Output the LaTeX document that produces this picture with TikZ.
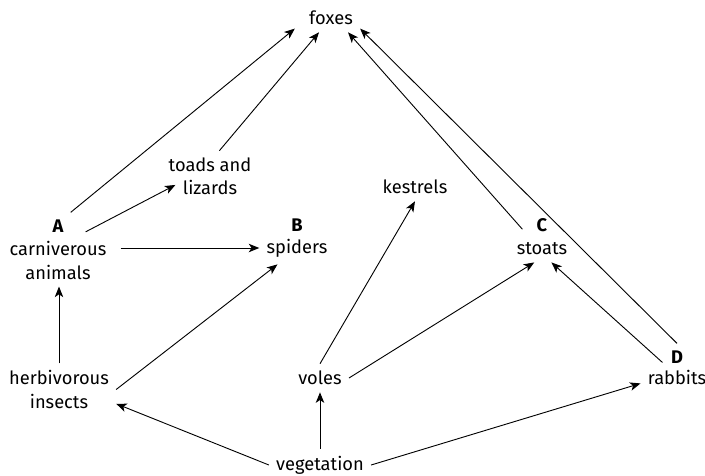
\documentclass[tikz,border=0pt]{standalone}
\usepackage{fontspec}
\setmainfont{Fira Sans}
\usetikzlibrary{arrows.meta}

\begin{document}
\begin{tikzpicture}[
    x=0.025cm, y=-0.025cm,
    organism/.style={align=center, inner sep=5pt, font=\fontsize{13}{16.4}\selectfont},
    tag/.style={inner sep=5pt, font=\fontsize{13}{16.4}\selectfont\bfseries},
    arrow/.style={-{Stealth[length=7.5pt, width=6pt, inset=2pt]}, line width=0.65pt}
]
\useasboundingbox (0,0) rectangle (705,475);

% Top of the web
\node[organism] (foxes) at (331,18) {foxes};
\node[organism] (toads) at (210,176.5) {toads and\\lizards};
\node[organism] (kestrels) at (415,187) {kestrels};

% Middle row (A, B, C)
\node[tag] (a) at (58,226) {A};
\node[organism] (carn) at (58,260.5) {carniverous\\animals};
\node[tag] (b) at (297,225) {B};
\node[organism] (spiders) at (297,248) {spiders};
\node[tag] (c) at (542,225) {C};
\node[organism] (stoats) at (542,249) {stoats};

% Lower row (D)
\node[organism] (herb) at (59,389.5) {herbivorous\\insects};
\node[organism] (voles) at (320,378) {voles};
\node[tag] (d) at (677,357) {D};
\node[organism] (rabbits) at (677,377) {rabbits};

% Bottom
\node[organism] (veg) at (320,465) {vegetation};

% Eaten by foxes
\draw[arrow] (a.north east) -- ([xshift=-5pt]foxes.200);
\draw[arrow] (toads.70) -- (foxes.230);
\draw[arrow] ([shift={(-5pt,-3pt)}]c.west) -- (foxes.-40);
\draw[arrow] (d.north) -- (foxes.-20);

% Carnivorous animals
\draw[arrow, shorten <=12pt] (a.south east) -- ([xshift=10pt,yshift=-6pt]toads.west);
\draw[arrow, shorten <=5pt] (spiders.west -| carn.east) -- (spiders.west);

% Herbivorous insects
\draw[arrow] (herb.north) -- (herb.north |- carn.south);
\draw[arrow] (herb.east) -- (spiders.220);

% Voles and rabbits
\draw[arrow] (voles.north) -- (kestrels.south);
\draw[arrow] (voles.east) -- (stoats.240);
\draw[arrow] (rabbits.135) -- (stoats.-55);

% Vegetation
\draw[arrow] (veg.west) -- (herb.-14);
\draw[arrow] (veg.north) -- (voles.south);
\draw[arrow] (veg.east) -- (rabbits.190);

\end{tikzpicture}
\end{document}
